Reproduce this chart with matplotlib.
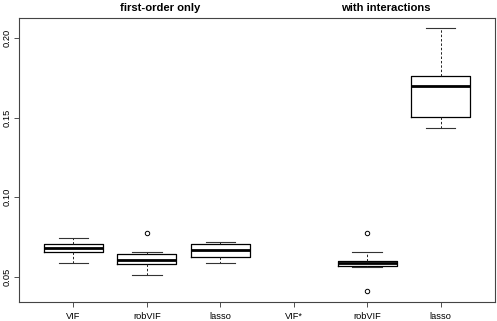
import matplotlib
matplotlib.use("Agg")
import matplotlib.pyplot as plt

plt.rcParams['font.family'] = ['Liberation Sans', 'DejaVu Sans']

# categories along the x axis (VIF* has no box)
labels = ["VIF", "robVIF", "lasso", "VIF*", "robVIF", "lasso"]
box_pos = [1, 2, 3, 5, 6]

# box statistics
whislo = [0.0590, 0.0511, 0.0590, 0.0564, 0.1433]
q1 = [0.0655, 0.0580, 0.0627, 0.0567, 0.1502]
med = [0.0684, 0.0609, 0.0671, 0.0588, 0.1700]
q3 = [0.0705, 0.0646, 0.0705, 0.0602, 0.1759]
whishi = [0.0747, 0.0658, 0.0722, 0.0657, 0.2060]
fliers = [[], [0.0778], [], [0.0777, 0.0415], []]

titles = ["first-order only", "with interactions"]
title_x = [2.18, 5.25]

stats = []
for i in range(len(box_pos)):
    stats.append({"whislo": whislo[i], "q1": q1[i], "med": med[i],
                  "q3": q3[i], "whishi": whishi[i], "fliers": fliers[i]})

fig = plt.figure(figsize=(4.97, 3.21), dpi=100)
ax = fig.add_axes([19/497, 1 - 301.7/321, (495 - 19)/497, (301.7 - 17.7)/321])

ax.bxp(stats, positions=box_pos, widths=0.8, showfliers=True,
       boxprops=dict(color="black", linewidth=0.9),
       medianprops=dict(color="black", linewidth=2.0, solid_capstyle="butt"),
       whiskerprops=dict(color="#222222", linewidth=0.7, linestyle=(0, (2.5, 2))),
       capprops=dict(color="#333333", linewidth=0.8),
       flierprops=dict(marker="o", markerfacecolor="none", markeredgecolor="black",
                       markersize=3.2, markeredgewidth=0.7))

ax.set_xlim(0.26, 6.74)
ax.set_ylim(0.0345, 0.2127)
ax.set_xticks(range(1, len(labels) + 1))
ax.set_xticklabels(labels)
ax.set_yticks([0.05, 0.10, 0.15, 0.20])
ax.set_yticklabels(["0.05", "0.10", "0.15", "0.20"], rotation=90, va="center")
ax.tick_params(axis="both", labelsize=6.7, length=3.6, width=0.6, color="#333333", pad=1.5)
ax.tick_params(axis="x", pad=3.5)

for s in ax.spines.values():
    s.set_linewidth(0.8)
    s.set_color("#444444")

for t, x in zip(titles, title_x):
    ax.text(x, 1.0 + 9.5/284, t, transform=ax.get_xaxis_transform(),
            ha="center", va="center", fontsize=8.1, fontweight="bold")

fig.savefig("out.png", dpi=100)
